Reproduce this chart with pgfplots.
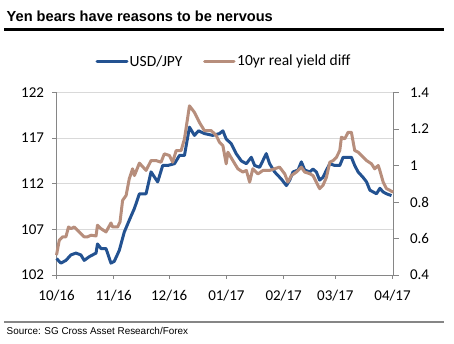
\documentclass[border=0pt]{standalone}
\usepackage{pgfplots}
\pgfplotsset{compat=1.18}
\usepackage{fontspec}
\setmainfont{Carlito}
\newfontfamily\arial{Liberation Sans}
\definecolor{usdblue}{RGB}{35,82,145}
\definecolor{yieldbrown}{RGB}{183,142,124}
\definecolor{axisgrey}{RGB}{134,134,134}
\definecolor{gridgrey}{RGB}{217,217,217}
\begin{document}
\begin{tikzpicture}[x=1pt,y=1pt]
\path (0,0) rectangle (454,344);
% title
\node[anchor=west,inner sep=0pt] at (6.5,327.5) {\arial\fontsize{14.6}{16}\selectfont\bfseries Yen bears have reasons to be nervous};
\fill[black] (4,312.5) rectangle (444,315.5);
% legend
\draw[usdblue,line width=3pt,line cap=round] (97,282.3) -- (127,282.3);
\node[anchor=west,inner sep=0pt] at (129.5,282.3) {\fontsize{15.5}{17}\selectfont USD/JPY};
\draw[yieldbrown,line width=3pt,line cap=round] (204.5,282.3) -- (234,282.3);
\node[anchor=west,inner sep=0pt] at (237,282.3) {\fontsize{15.5}{17}\selectfont 10yr real yield diff};
% source
\fill[axisgrey] (4,21.3) rectangle (444,23.3);
\node[anchor=west,inner sep=0pt] at (6.5,13) {\arial\fontsize{9.9}{11}\selectfont Source: SG Cross Asset Research/Forex};
\begin{axis}[
  at={(56.5pt,69pt)}, anchor=south west,
  scale only axis, width=337pt, height=182.5pt,
  xmin=0, xmax=182.5, ymin=102, ymax=122,
  axis x line*=bottom, axis y line*=left,
  axis line style={axisgrey,line width=0.8pt,-},
  xtick={0,31,61,92,123,151,182},
  xticklabels={10/16,11/16,12/16,01/17,02/17,03/17,04/17},
  ytick={102,107,112,117,122},
  yticklabels={102,107,112,117,122},
  tick align=outside, major tick length=4pt,
  tick style={axisgrey,line width=0.8pt},
  ymajorgrids, grid style={gridgrey,line width=0.8pt},
  ticklabel style={font=\fontsize{15}{17}\selectfont},
  xticklabel style={yshift=-8pt},
  yticklabel style={xshift=-5pt},
  clip=false,
]
\addplot[usdblue,line width=3pt,line join=round] coordinates {
(0,103.8) (2.4,103.3) (5.1,103.6) (7.8,104.2) (10.5,104.4) (13.2,104.2) (15.0,103.6)
(17.7,104.0) (21.4,104.4) (22.2,105.4) (24.1,104.9) (26.8,104.9) (29.5,103.3) (31.3,103.5)
(34.0,104.7) (36.7,106.7) (39.4,108.0) (42.2,109.3) (44.9,110.9) (48.5,110.9) (51.2,113.3)
(54.8,112.2) (57.5,114.0) (60.2,114.0) (63.9,114.2) (66.6,115.1) (69.3,115.1) (72.0,118.2)
(74.7,117.3) (76.9,117.8) (80.1,117.5) (84.6,117.3) (88.3,117.5) (90.1,117.8) (91.9,116.9)
(94.6,116.4) (97.3,115.3) (100.1,114.5) (102.8,114.2) (105.5,114.9) (107.3,114.0) (110.0,113.8)
(113.6,115.3) (115.4,114.2) (118.1,113.3) (121.8,112.5) (124.5,111.8) (126.3,112.4) (128.1,113.3)
(130.8,113.5) (132.6,114.4) (134.4,113.5) (137.1,113.3) (138.9,113.6) (140.7,113.3) (142.5,112.4)
(144.3,112.7) (146.2,113.5) (148.0,114.2) (150.7,114.0) (153.4,114.0) (155.2,114.9) (157.9,114.9)
(159.7,114.9) (161.5,114.0) (163.3,113.3) (166.0,112.7) (167.9,112.2) (169.7,111.3) (171.5,111.1)
(173.3,110.9) (175.1,111.5) (176.9,111.1) (178.7,110.9) (181.4,110.7)
};
\end{axis}
\begin{axis}[
  at={(56.5pt,69pt)}, anchor=south west,
  scale only axis, width=337pt, height=182.5pt,
  xmin=0, xmax=182.5, ymin=0.4, ymax=1.4,
  axis x line=none, axis y line*=right,
  axis line style={axisgrey,line width=0.8pt,-},
  ytick={0.4,0.6,0.8,1,1.2,1.4},
  yticklabels={0.4,0.6,0.8,1,1.2,1.4},
  tick align=outside, major tick length=5pt,
  tick style={axisgrey,line width=0.8pt},
  ticklabel style={font=\fontsize{15}{17}\selectfont},
  yticklabel style={xshift=8pt},
  clip=false,
]
\addplot[yieldbrown,line width=3pt,line join=round] coordinates {
(0,0.509) (1.5,0.59) (3.3,0.609) (5.1,0.609) (6.5,0.663) (7.8,0.654) (9.6,0.663) (12.3,0.636)
(15.0,0.609) (16.8,0.609) (18.7,0.618) (21.4,0.614) (22.2,0.673) (24.1,0.654) (26.8,0.636)
(29.5,0.685) (30.4,0.663) (33.1,0.663) (34.4,0.691) (35.8,0.809) (37.7,0.836) (39.4,0.927)
(41.2,0.982) (42.2,0.945) (44.9,1.013) (48.5,0.973) (51.2,1.027) (53.9,1.027) (56.6,1.018)
(58.4,1.064) (61.1,1.055) (62.9,1.018) (64.8,1.082) (67.5,1.082) (69.3,1.146) (72.0,1.327)
(74.7,1.291) (77.4,1.236) (80.1,1.191) (83.8,1.191) (86.5,1.164) (88.3,1.127) (90.1,1.109)
(91.9,1.009) (92.8,1.073) (95.5,1.027) (98.2,0.982) (100.9,0.964) (102.8,0.973) (104.6,0.909)
(106.3,0.982) (109.1,0.954) (111.8,0.973) (115.4,0.973) (118.1,0.982) (120.8,0.991) (123.6,0.954)
(125.3,0.909) (127.2,0.945) (129.9,0.964) (132.6,0.991) (134.4,0.964) (137.1,0.955) (138.9,0.945)
(140.7,0.909) (142.5,0.873) (144.3,0.891) (146.2,0.936) (148.0,1.018) (149.8,1.027) (151.6,1.045)
(153.4,1.082) (154.3,1.155) (156.1,1.146) (157.9,1.182) (159.7,1.182) (161.5,1.082) (163.3,1.073)
(165.2,1.055) (167.9,1.027) (170.6,1.009) (172.3,0.982) (174.2,1.0) (175.1,0.973) (176.9,0.909)
(178.7,0.873) (180.5,0.864) (182.3,0.854)
};
\end{axis}
\end{tikzpicture}
\end{document}
